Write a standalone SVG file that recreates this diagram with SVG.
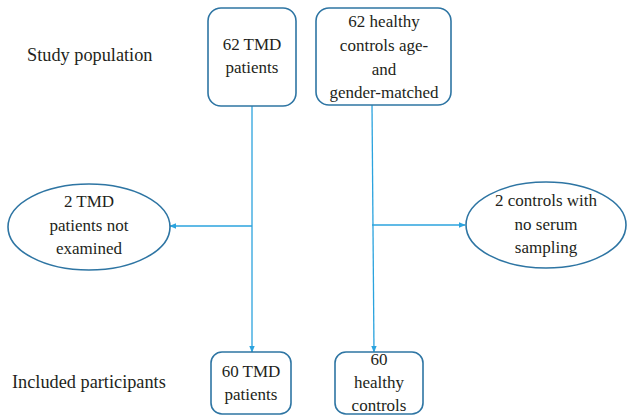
<svg xmlns="http://www.w3.org/2000/svg" width="627" height="417" viewBox="0 0 627 417">
<style>
.box{fill:#fff;stroke:#2e75a3;stroke-width:1.6}
text{font-size:17px;fill:#231f20}
.t{text-anchor:middle}
.lab{font-size:18.3px}
.c{stroke:#2ba3de;stroke-width:1.3;fill:none;marker-end:url(#ah)}
</style>
<defs>
<marker id="ah" viewBox="0 0 10 10" refX="9" refY="5" markerWidth="7" markerHeight="7" markerUnits="userSpaceOnUse" orient="auto">
<path d="M0,1 L10,5 L0,9 Z" fill="#2ba3de"/>
</marker>
</defs>
<rect width="627" height="417" fill="#fff"/>
<g font-family="'Liberation Serif', 'DejaVu Serif', 'Times New Roman', serif">
<text class="lab" x="27" y="61">Study population</text>
<text class="lab" x="12" y="388">Included participants</text>
<g id="connectors">
<path class="c" d="M252,106 V352"/>
<path class="c" d="M372,105 L374,352"/>
<path class="c" d="M252,226 H170"/>
<path class="c" d="M372,225 H465"/>
</g>
<g id="n1">
<rect class="box" x="208" y="8" width="88" height="98" rx="13"/>
<text class="t" x="252" y="50">62 TMD</text>
<text class="t" x="252" y="73">patients</text>
</g>
<g id="n2">
<rect class="box" x="316" y="8" width="135" height="97" rx="13"/>
<text class="t" x="384" y="27">62 healthy</text>
<text class="t" x="384" y="51">controls age-</text>
<text class="t" x="384" y="75">and</text>
<text class="t" x="384" y="98">gender-matched</text>
</g>
<g id="n3">
<ellipse class="box" cx="89" cy="227" rx="81" ry="43"/>
<text class="t" x="89" y="207">2 TMD</text>
<text class="t" x="89" y="231">patients not</text>
<text class="t" x="89" y="254">examined</text>
</g>
<g id="n4">
<ellipse class="box" cx="546" cy="225" rx="80" ry="43"/>
<text class="t" x="546" y="206">2 controls with</text>
<text class="t" x="546" y="230">no serum</text>
<text class="t" x="546" y="253">sampling</text>
</g>
<g id="n5">
<rect class="box" x="211" y="352" width="80" height="62" rx="11"/>
<text class="t" x="251" y="377">60 TMD</text>
<text class="t" x="251" y="400">patients</text>
</g>
<g id="n6">
<rect class="box" x="335" y="352" width="88" height="62" rx="11"/>
<text class="t" x="379" y="365">60</text>
<text class="t" x="379" y="388">healthy</text>
<text class="t" x="379" y="411">controls</text>
</g>
</g>
</svg>
